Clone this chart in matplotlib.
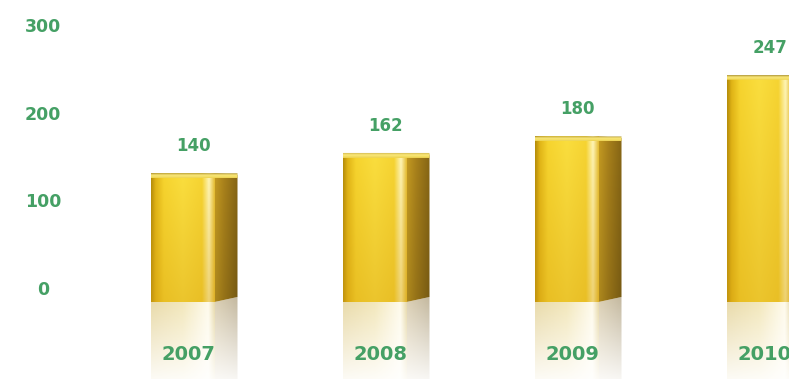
import numpy as np
import matplotlib
matplotlib.use("Agg")
import matplotlib.pyplot as plt
from matplotlib.patches import Polygon, FancyBboxPatch

# ---- data ----
years = ["2007", "2008", "2009", "2010"]
values = [140, 162, 180, 247]
tick_values = [0, 100, 200, 300]

GREEN = "#45a065"

W, H = 789, 379
fig = plt.figure(figsize=(W / 100, H / 100), dpi=100)
fig.patch.set_facecolor("white")
ax = fig.add_axes([0, 0, 1, 1])
ax.set_axis_off()

# pixel scales (layout)
PXX = 192.0          # px per category step
X0 = 182.5           # px of first bar centre
PXY = 0.92           # px per value unit
BASE = 77.0          # px from bottom of the bar base
xlim = (-X0 / PXX, (W - X0) / PXX)
ylim = (-BASE / PXY, (H - BASE) / PXY)

hw = 32 / PXX        # half front width
sw = 23 / PXX        # side width
rise = 5 / PXY       # side bottom rise
cap = 5 / PXY        # cap height


def profile(stops, n):
    t = np.linspace(0, 1, n)
    pos = [s[0] for s in stops]
    out = np.zeros((n, 3))
    for c in range(3):
        out[:, c] = np.interp(t, pos, [s[1][c] for s in stops])
    return out / 255.0


def clipped_image(img, extent, poly, z):
    p = Polygon(poly, closed=True, facecolor="none", edgecolor="none")
    ax.add_patch(p)
    im = ax.imshow(img, extent=extent, origin="lower", aspect="auto",
                   interpolation="bilinear", zorder=z)
    im.set_clip_path(p)
    return im


front_stops = [(0.00, (180, 140, 10)), (0.07, (224, 180, 22)), (0.20, (246, 212, 46)),
               (0.50, (250, 222, 62)), (0.80, (246, 212, 50)), (0.91, (255, 246, 185)),
               (1.00, (228, 188, 50))]
side_stops = [(0.0, (188, 148, 32)), (0.4, (162, 124, 26)), (1.0, (128, 97, 20))]

nh, nv = 120, 60
fp = profile(front_stops, nh)
sp = profile(side_stops, nh)
vt = np.linspace(0, 1, nv)[:, None, None]   # 0 bottom -> 1 top
orange = np.array([214, 160, 20]) / 255.0

mix = 0.6 + 0.4 * vt
front_img = np.clip(fp[None, :, :] * mix + orange * (1 - mix), 0, 1)
side_img = np.clip(sp[None, :, :] * (0.92 + 0.12 * vt), 0, 1)

# reflection images (RGBA, fading downward)
refl_len = ylim[0]
fa = np.linspace(0.1, 0.8, nv)[:, None]
fr = np.zeros((nv, nh, 4))
refl_front = profile([(0, (228, 210, 150)), (0.5, (240, 226, 172)), (0.9, (255, 250, 232)),
                      (1, (225, 208, 150))], nh)
fr[:, :, :3] = refl_front[None, :, :]
fr[:, :, 3] = fa
sr = np.zeros((nv, nh, 4))
sr[:, :, :3] = profile([(0, (210, 195, 160)), (1, (180, 166, 135))], nh)[None, :, :]
sr[:, :, 3] = fa

cap_img = profile([(0, (236, 210, 80)), (0.5, (250, 232, 120)), (0.8, (220, 196, 90)),
                   (1, (165, 145, 60))], nv)[:, None, :].repeat(4, axis=1)

for i, v in enumerate(values):
    xl, xr = i - hw, i + hw
    xs = xr + sw
    # front face
    clipped_image(front_img, [xl, xr, 0, v], [(xl, 0), (xr, 0), (xr, v), (xl, v)], 3)
    # side face
    clipped_image(side_img, [xr, xs, 0, v],
                  [(xr, 0), (xs, rise), (xs, v - cap * 0.3), (xr, v)], 3)
    # top cap (rounded rim)
    cp = FancyBboxPatch((xl, v - cap), xs - xl, cap,
                        boxstyle="round,pad=0,rounding_size=0.02",
                        mutation_aspect=1 / (PXX / PXY) * 8,
                        facecolor="none", edgecolor="none")
    ax.add_patch(cp)
    im = ax.imshow(cap_img, extent=[xl, xs, v - cap, v], origin="lower",
                   aspect="auto", interpolation="bilinear", zorder=4)
    im.set_clip_path(cp)
    # reflections
    clipped_image(fr, [xl, xr, refl_len, 0], [(xl, 0), (xr, 0), (xr, refl_len), (xl, refl_len)], 2)
    clipped_image(sr, [xr, xs, refl_len, rise],
                  [(xr, 0), (xs, rise), (xs, refl_len), (xr, refl_len)], 2)

    # value label
    ax.annotate(str(v), xy=(i, v), xytext=(8, 19.5), textcoords="offset points",
                ha="center", va="center", color=GREEN, fontsize=12,
                fontweight="bold", zorder=6)
    # year label
    ax.annotate(years[i], xy=(i, 0), xytext=(4, -37.5), textcoords="offset points",
                ha="center", va="center", color=GREEN, fontsize=14,
                fontweight="bold", zorder=6)

ax.set_xlim(*xlim)
ax.set_ylim(*ylim)

# value scale labels on their own axis
ax2 = fig.add_axes([0, 0, 1, 1], frameon=False)
ax2.set_axis_off()
TP = 0.877
ax2.set_xlim(0, W)
ax2.set_ylim(-89 / TP, (H - 89) / TP)
for t in tick_values:
    ax2.text(43, t, str(t), ha="center", va="center", color=GREEN,
             fontsize=12.5, fontweight="bold")

fig.savefig("out.png", dpi=100, facecolor="white")
